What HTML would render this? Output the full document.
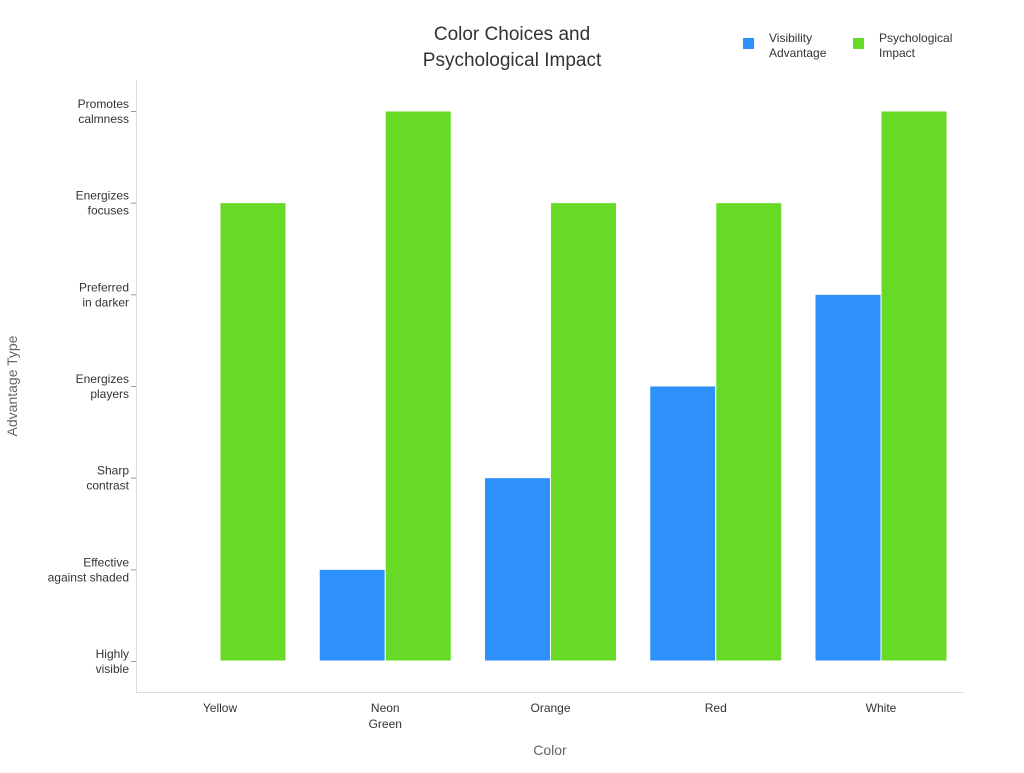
<!DOCTYPE html>
<html><head><meta charset="utf-8"><style>
body{margin:0;background:#fff;font-family:"Liberation Sans","DejaVu Sans",sans-serif;}
</style></head><body>
<svg width="1024" height="768" viewBox="0 0 1024 768" font-family="Liberation Sans, DejaVu Sans, sans-serif">
<text x="512" y="40" text-anchor="middle" font-size="19" fill="#333">Color Choices and</text>
<text x="512" y="66" text-anchor="middle" font-size="19" fill="#333">Psychological Impact</text>
<g>
<rect x="743" y="38" width="11" height="11" fill="#2e90fa"/>
<text x="769" y="42" font-size="12" fill="#333">Visibility</text>
<text x="769" y="57" font-size="12" fill="#333">Advantage</text>
<rect x="853" y="38" width="11" height="11" fill="#66da26"/>
<text x="879" y="42" font-size="12" fill="#333">Psychological</text>
<text x="879" y="57" font-size="12" fill="#333">Impact</text>
</g>
<line x1="136.5" y1="80" x2="136.5" y2="692" stroke="#ddd"/>
<line x1="136" y1="692.5" x2="963" y2="692.5" stroke="#ddd"/>
<g id="yticks"></g><g id="xticks"></g><g id="bars"></g>
<text x="0" y="0" transform="translate(17,386) rotate(-90)" text-anchor="middle" font-size="14" fill="#666">Advantage Type</text>
<text x="550" y="755" text-anchor="middle" font-size="14" fill="#666">Color</text>
</svg>
<script>
const categories=["Yellow","Neon|Green","Orange","Red","White"];
const yLevels=["Highly|visible","Effective|against shaded","Sharp|contrast","Energizes|players","Preferred|in darker","Energizes|focuses","Promotes|calmness"];
const visibility=[0,1,2,3,4];
const psychological=[5,6,5,5,6];
const NS="http://www.w3.org/2000/svg";
function y(v){return 661-v*91.67;}
function xc(i){return 220+i*165.25;}
const bw=66;
function mk(t,a,p){const e=document.createElementNS(NS,t);for(const k in a)e.setAttribute(k,a[k]);p.appendChild(e);return e;}
const yt=document.getElementById('yticks');
yLevels.forEach((l,i)=>{
 const tk=mk('line',{x1:131,x2:136,y1:y(i)+0.5,y2:y(i)+0.5,stroke:'#999'},yt);
 
 
 l.split('|').forEach((s,j)=>{
  const t=mk('text',{x:129,y:y(i)-3+j*15,'text-anchor':'end','font-size':12,fill:'#333'},yt);
  t.textContent=s;
  
  
 });
});
const xt=document.getElementById('xticks');
categories.forEach((c,i)=>{
 c.split('|').forEach((s,j)=>{
  const t=mk('text',{x:xc(i),y:712+j*16,'text-anchor':'middle','font-size':12,fill:'#333'},xt);
  t.textContent=s;
  
  
 });
});
const bg=document.getElementById('bars');
categories.forEach((c,i)=>{
 if(visibility[i]>0){
 const b=mk('rect',{x:xc(i)-bw,y:y(visibility[i]),width:bw,height:y(0)-y(visibility[i]),fill:'#2e90fa',stroke:'#fff','stroke-width':1},bg);
 
 
 }
 const g=mk('rect',{x:xc(i),y:y(psychological[i]),width:bw,height:y(0)-y(psychological[i]),fill:'#66da26',stroke:'#fff','stroke-width':1},bg);
 
 
});
</script>
</body></html>
